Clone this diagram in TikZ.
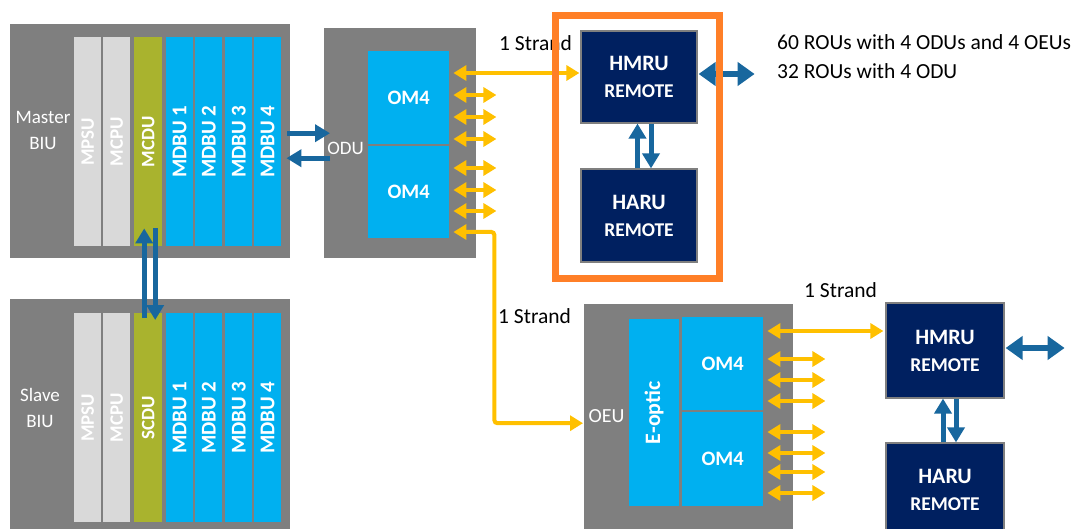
\documentclass[tikz,border=0pt]{standalone}
\usepackage{fontspec}
\setmainfont{Carlito}
\usetikzlibrary{arrows.meta}
\definecolor{boxgray}{HTML}{7F7F7F}
\definecolor{colgray}{HTML}{D9D9D9}
\definecolor{cduolive}{HTML}{A9B32E}
\definecolor{omcyan}{HTML}{00B0F0}
\definecolor{remnavy}{HTML}{002060}
\definecolor{linkblue}{HTML}{18679E}
\definecolor{fibreylw}{HTML}{FFC000}
\definecolor{frameorg}{HTML}{FF7F27}
\newcommand{\fsz}[1]{\fontsize{#1}{#1}\selectfont}

\begin{document}
\begin{tikzpicture}[x=1pt, y=-1pt,
    panel/.style={fill=boxgray, inner sep=0pt, anchor=north west},
    card/.style={inner sep=0pt, anchor=north west, text=white,
                 minimum width=27pt, minimum height=209pt, font=\bfseries\fsz{21}},
    remote/.style={fill=remnavy, draw=boxgray, line width=1.2pt, inner sep=0pt,
                   text=white, align=center, font=\bfseries\fontsize{22}{27}\selectfont},
    lbl/.style={text=white, inner sep=0pt, font=\fsz{19}},
    strand/.style={anchor=base west, inner sep=0pt, font=\fsz{21.5}},
    linkarr/.style={draw=linkblue, line width=5pt, >={Triangle[length=15pt,width=17pt]}, ->},
    linkdbl/.style={draw=linkblue, line width=6.5pt, >={Triangle[length=17pt,width=23pt]}, <->},
    fibre/.style={draw=fibreylw, line width=4pt, >={Triangle[length=13pt,width=15pt]}, <->}]

    \clip (0,0) rectangle (1081,529);

    % ── Master BIU ────────────────────────────────────────────────────────────
    \node[panel, minimum width=280pt, minimum height=234pt] (mbiu) at (10,24) {};
    \node[lbl, align=center, font=\fontsize{19}{26}\selectfont] (mbiulbl) at (43,130.5) {Master\\BIU};
    \node[card, fill=colgray, font=\bfseries\fsz{19}] (mpsu) at (74,37) {\rotatebox{90}{MPSU}};
    \node[card, fill=colgray, font=\bfseries\fsz{19}] (mcpu) at (103,37) {\rotatebox{90}{MCPU}};
    \node[card, fill=cduolive, minimum width=28pt, font=\bfseries\fsz{19}] (mcdu) at (134,37) {\rotatebox{90}{MCDU}};

    % ── Slave BIU ─────────────────────────────────────────────────────────────
    \node[panel, minimum width=280pt, minimum height=232pt] (sbiu) at (10,299) {};
    \node[lbl, align=center, font=\fontsize{19}{26}\selectfont] (sbiulbl) at (40,407.5) {Slave\\BIU};
    \node[card, fill=colgray, font=\bfseries\fsz{19}] (spsu) at (74,313) {\rotatebox{90}{MPSU}};
    \node[card, fill=colgray, font=\bfseries\fsz{19}] (scpu) at (103,313) {\rotatebox{90}{MCPU}};
    \node[card, fill=cduolive, minimum width=28pt, font=\bfseries\fsz{19}] (scdu) at (134,313) {\rotatebox{90}{SCDU}};

    \foreach \i/\cx in {1/166,2/195,3/225,4/254} {
        \node[card, fill=omcyan] (mdbu\i) at (\cx,37) {\rotatebox{90}{MDBU \i}};
        \node[card, fill=omcyan] (sdbu\i) at (\cx,313) {\rotatebox{90}{MDBU \i}};
    }

    % ── ODU with two OM4 ──────────────────────────────────────────────────────
    \node[panel, minimum width=152pt, minimum height=230pt] (odu) at (324,28) {};
    \node[lbl] (odulbl) at (345.5,148.5) {ODU};
    \node[card, fill=omcyan, minimum width=81pt, minimum height=93pt, font=\bfseries\fsz{20.5}] (om4a) at (368,51) {OM4};
    \node[card, fill=omcyan, minimum width=81pt, minimum height=92pt, font=\bfseries\fsz{20.5}] (om4b) at (368,146) {OM4};

    % ── OEU with E-optic and two OM4 ──────────────────────────────────────────
    \node[panel, minimum width=209pt, minimum height=230pt] (oeu) at (584,304) {};
    \node[lbl, font=\fsz{20}] (oeulbl) at (606.5,416.5) {OEU};
    \node[card, fill=omcyan, minimum width=50pt, minimum height=187pt, font=\bfseries\fsz{22}] (eoptic) at (629,319) {\rotatebox{90}{E-optic}};
    \node[card, fill=omcyan, minimum width=81pt, minimum height=93pt, font=\bfseries\fsz{20.5}] (om4c) at (682,317) {OM4};
    \node[card, fill=omcyan, minimum width=81pt, minimum height=94pt, font=\bfseries\fsz{20.5}] (om4d) at (682,412) {OM4};

    % ── Remote units ──────────────────────────────────────────────────────────
    \node[remote, minimum width=116pt, minimum height=92pt] (hmru1) at (639,77)
        {HMRU\\{\fontsize{19.5}{27}\selectfont REMOTE}};
    \node[remote, minimum width=116pt, minimum height=93pt] (haru1) at (639,215.5)
        {HARU\\{\fontsize{19.5}{27}\selectfont REMOTE}};
    \node[remote, minimum width=118pt, minimum height=95pt] (hmru2) at (945,350.5)
        {HMRU\\{\fontsize{19.5}{27}\selectfont REMOTE}};
    \node[remote, minimum width=118pt, minimum height=93pt] (haru2) at (945,489.5)
        {HARU\\{\fontsize{19.5}{27}\selectfont REMOTE}};

    % ── Texts ─────────────────────────────────────────────────────────────────
    \node[strand] (strand1) at (499,51) {1 Strand};
    \node[strand] (strand2) at (498,323) {1 Strand};
    \node[strand] (strand3) at (804,298) {1 Strand};
    \node[strand] (rou1) at (777,50) {60 ROUs with 4 ODUs and 4 OEUs};
    \node[strand] (rou2) at (777,79) {32 ROUs with 4 ODU};

    % ── Fibre links (yellow) ──────────────────────────────────────────────────
    \draw[fibre] ([xshift=4pt,yshift=4pt]hmru1.west -| om4a.east) -- ([xshift=-1pt,yshift=4pt]hmru1.west);
    \foreach \dy in {44,66,88}
        \draw[fibre] ([xshift=4pt,yshift=-\dy pt]om4a.north east) -- ++(43,0);
    \foreach \dy in {22,44,65}
        \draw[fibre] ([xshift=4pt,yshift=-\dy pt]om4b.north east) -- ++(43,0);
    \draw[fibre, rounded corners=3pt] ([xshift=4pt,yshift=-86pt]om4b.north east) -- ++(41,0)
        |- ([xshift=-1pt,yshift=-4pt]oeu.west);

    \draw[fibre] ([xshift=4pt,yshift=19.5pt]hmru2.west -| om4c.east) -- ([xshift=-2pt,yshift=19.5pt]hmru2.west);
    \foreach \dy in {42,63,84}
        \draw[fibre] ([xshift=4pt,yshift=-\dy pt]om4c.north east) -- ++(58,0);
    \foreach \dy in {20,41,60,81}
        \draw[fibre] ([xshift=4pt,yshift=-\dy pt]om4d.north east) -- ++(58,0);

    % ── Control links (blue) ──────────────────────────────────────────────────
    \draw[linkarr] ([xshift=-4pt,yshift=-5pt]scdu.north) -- ([xshift=-4pt,yshift=18pt]mcdu.south);
    \draw[linkarr] ([xshift=7pt,yshift=18pt]mcdu.south) -- ([xshift=7pt,yshift=-7pt]scdu.north);

    \draw[linkarr] ([xshift=-3pt,yshift=8pt]mbiu.east) -- ([xshift=6pt,yshift=8pt]mbiu.east -| odu.west);
    \draw[linkarr] ([xshift=6pt,yshift=-17pt]mbiu.east -| odu.west) -- ([xshift=-4pt,yshift=-17pt]mbiu.east);

    \draw[linkarr] ([xshift=-1.5pt]haru1.north) -- ([xshift=-1.5pt]hmru1.south);
    \draw[linkarr] ([xshift=12pt]hmru1.south) -- ([xshift=12pt]haru1.north);
    \draw[linkarr] ([xshift=-2pt]haru2.north) -- ([xshift=-2pt]hmru2.south);
    \draw[linkarr] ([xshift=11pt]hmru2.south) -- ([xshift=11pt]haru2.north);

    \draw[linkdbl] ([xshift=1pt,yshift=3pt]hmru1.east) -- ++(56,0);
    \draw[linkdbl] ([xshift=1pt,yshift=2.5pt]hmru2.east) -- ++(59,0);

    % ── Orange frame round the remote pair ────────────────────────────────────
    \node[draw=frameorg, line width=7pt, inner sep=0pt, minimum width=164pt,
          minimum height=263pt] (hmframe) at (637.5,147) {};

\end{tikzpicture}
\end{document}
